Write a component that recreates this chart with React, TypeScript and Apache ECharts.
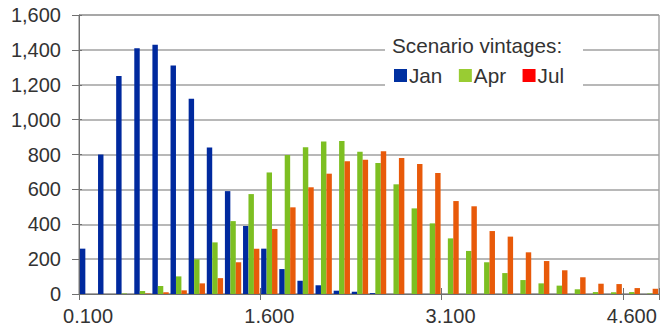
import React, { useEffect, useRef } from "react";
import * as echarts from "echarts";

const categories = [
  "0.100", "0.250", "0.400", "0.550", "0.700", "0.850", "1.000", "1.150", "1.300", "1.450",
  "1.600", "1.750", "1.900", "2.050", "2.200", "2.350", "2.500", "2.650", "2.800", "2.950",
  "3.100", "3.250", "3.400", "3.550", "3.700", "3.850", "4.000", "4.150", "4.300", "4.450",
  "4.600", "4.750",
];

const janValues = [
  260, 800, 1250, 1410, 1430, 1310, 1120, 840, 590, 390,
  260, 143, 76, 50, 19, 13, 5, 0, 0, 0,
  0, 0, 0, 0, 0, 0, 0, 0, 0, 0,
  0, 0,
];
const aprValues = [
  0, 0, 3, 17, 46, 101, 199, 296, 418, 573,
  697, 797, 841, 874, 877, 816, 751, 629, 491, 405,
  319, 247, 182, 120, 80, 61, 48, 27, 11, 10,
  11, 3,
];
const julValues = [
  0, 0, 0, 3, 10, 21, 61, 91, 182, 260,
  373, 497, 612, 690, 761, 770, 818, 780, 746, 694,
  533, 503, 361, 329, 239, 189, 136, 96, 59, 57,
  34, 30,
];

const seriesNames = ["Jan", "Apr", "Jul"];
const barColors = ["#00299E", "#7DBF22", "#E85A0A"];
const legendColors = ["#0030A0", "#99CC33", "#FF0000"];
const legendTitle = "Scenario vintages:";

const FONT = "'Liberation Sans', Arial, sans-serif";
const TEXT = "#333333";
const FS = 20;
const LFS = 20.7;

export default function App() {
  const ref = useRef<HTMLDivElement>(null);
  useEffect(() => {
    if (!ref.current) return;
    const chart = echarts.init(ref.current, undefined, { renderer: "svg" });
    const values = [janValues, aprValues, julValues];
    chart.setOption({
      animation: false,
      backgroundColor: "#ffffff",
      textStyle: { fontFamily: FONT },
      grid: {
        left: 79,
        right: 1,
        top: 15,
        bottom: 41,
        show: true,
        borderColor: "#7a7a7a",
        borderWidth: 1,
        backgroundColor: "transparent",
      },
      legend: {
        data: seriesNames.map((n, i) => ({
          name: n,
          itemStyle: { color: legendColors[i] },
        })),
        icon: "rect",
        itemWidth: 13,
        itemHeight: 13,
        itemGap: 16.5,
        left: 394,
        top: 65,
        padding: 0,
        z: 20,
        selectedMode: false,
        textStyle: { fontSize: LFS, color: TEXT, fontFamily: FONT, padding: [0, 0, 0, -3] },
      },
      graphic: [
        {
          type: "rect",
          z: 10,
          shape: { x: 385, y: 28, width: 198, height: 66 },
          style: { fill: "#ffffff" },
        },
        {
          type: "text",
          z: 11,
          x: 392,
          y: 45,
          style: {
            text: legendTitle,
            fontSize: LFS,
            fontFamily: FONT,
            fill: TEXT,
            textVerticalAlign: "middle",
            verticalAlign: "middle",
          },
        },
      ],
      xAxis: [
        {
          type: "category",
          data: categories,
          position: "bottom",
          boundaryGap: true,
          axisLine: { show: true, lineStyle: { color: "#707070", width: 1 } },
          axisTick: {
            show: true,
            interval: 9,
            alignWithLabel: false,
            length: 6,
            lineStyle: { color: "#707070" },
          },
          axisLabel: {
            interval: 9,
            fontSize: FS,
            color: TEXT,
            fontFamily: FONT,
            margin: 12,
          },
          splitLine: { show: false },
        },
        {
          type: "category",
          data: categories,
          position: "bottom",
          boundaryGap: true,
          axisLine: { show: false },
          axisTick: {
            show: true,
            inside: true,
            interval: 9,
            alignWithLabel: false,
            length: 6,
            lineStyle: { color: "#707070" },
          },
          axisLabel: { show: false },
          splitLine: { show: false },
        },
      ],
      yAxis: [
        {
          type: "value",
          min: 0,
          max: 1600,
          interval: 200,
          axisLine: { show: true, lineStyle: { color: "#707070", width: 1 } },
          axisTick: { show: true, length: 7, lineStyle: { color: "#707070" } },
          axisLabel: {
            fontSize: FS,
            color: TEXT,
            fontFamily: FONT,
            margin: 18,
            formatter: (v: number) => v.toLocaleString("en-US"),
          },
          splitLine: { show: true, lineStyle: { color: "#a0a0a0", width: 1.5 } },
        },
        {
          type: "value",
          min: 0,
          max: 1600,
          interval: 200,
          position: "left",
          axisLine: { show: false },
          axisTick: { show: true, inside: true, length: 3, lineStyle: { color: "#707070" } },
          axisLabel: { show: false },
          splitLine: { show: false },
        },
      ],
      series: seriesNames.map((n, i) => ({
        name: n,
        type: "bar",
        xAxisIndex: 0,
        yAxisIndex: 0,
        data: values[i],
        barGap: "0%",
        barCategoryGap: "10%",
        itemStyle: { color: barColors[i] },
      })),
    });
    return () => chart.dispose();
  }, []);
  return <div ref={ref} style={{ width: 660, height: 335, position: "absolute", left: 0, top: 0 }} />;
}
